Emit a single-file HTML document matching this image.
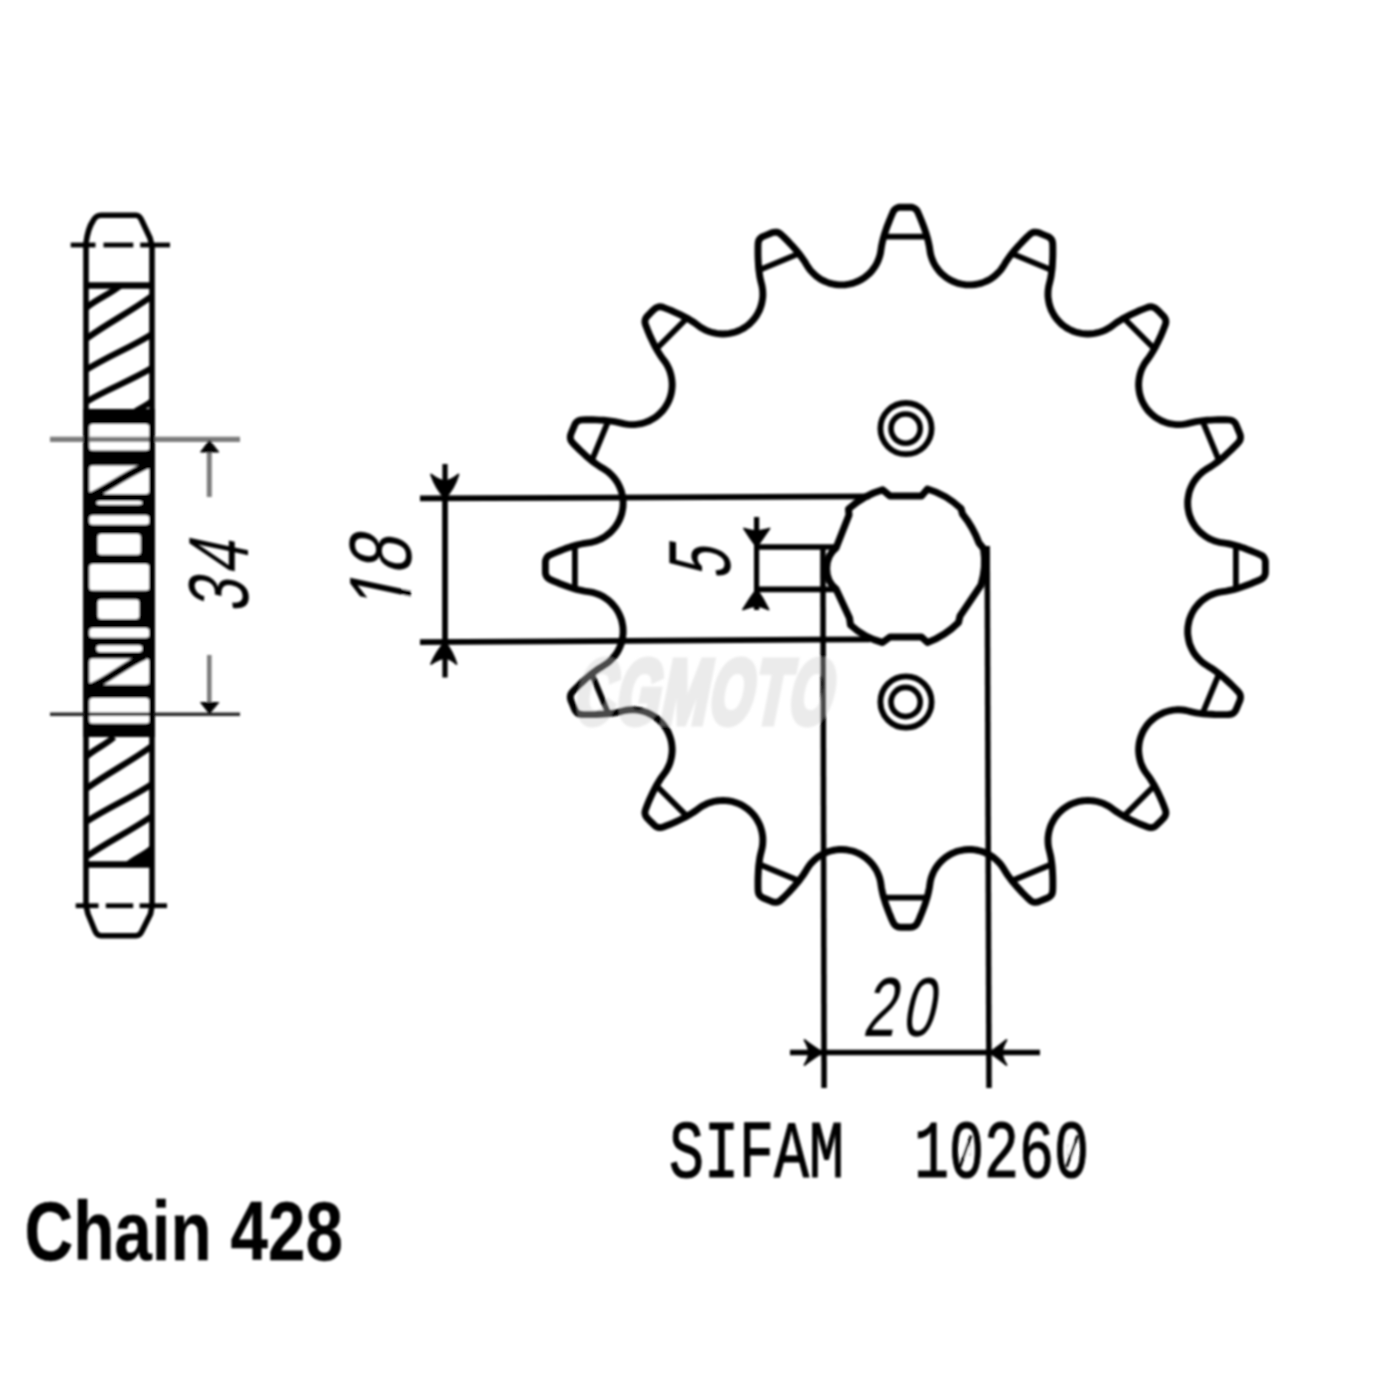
<!DOCTYPE html>
<html lang="en">
<head>
<meta charset="utf-8">
<title>SIFAM 10260 - Chain 428</title>
<style>
html,body{margin:0;padding:0;background:#fff;}
body{width:1400px;height:1400px;overflow:hidden;}
svg{display:block;}
</style>
</head>
<body>
<svg width="1400" height="1400" viewBox="0 0 1400 1400">
<defs><filter id="soft" filterUnits="userSpaceOnUse" x="0" y="0" width="1400" height="1400"><feGaussianBlur stdDeviation="1"/></filter></defs>
<rect width="1400" height="1400" fill="#fff"/>
<g id="drawing" filter="url(#soft)">
<g id="sideview">
<rect x="83.2" y="409" width="71.8" height="328" fill="#000"/>
<rect x="89.3" y="423.9" width="60.0" height="26.6" rx="3.5" fill="#fff"/>
<rect x="89.3" y="465.4" width="60.0" height="28.7" rx="3.5" fill="#fff"/>
<rect x="96.4" y="500.9" width="45.9" height="3.9" rx="3.5" fill="#fff"/>
<rect x="89.3" y="515.2" width="60.0" height="9.6" rx="3.5" fill="#fff"/>
<rect x="97.7" y="533.9" width="43.0" height="20.9" rx="3.5" fill="#fff"/>
<rect x="89.3" y="563.9" width="60.0" height="26.6" rx="3.5" fill="#fff"/>
<rect x="97.7" y="599.5" width="41.6" height="19.6" rx="3.5" fill="#fff"/>
<rect x="89.3" y="627.9" width="60.0" height="9.8" rx="3.5" fill="#fff"/>
<rect x="96.4" y="645.2" width="45.9" height="6.8" rx="3.5" fill="#fff"/>
<rect x="89.3" y="658.4" width="60.0" height="26.4" rx="3.5" fill="#fff"/>
<rect x="89.3" y="697.9" width="60.0" height="25.7" rx="3.5" fill="#fff"/>
<line x1="50.0" y1="439.3" x2="240.0" y2="439.3" stroke="#7c7c7c" stroke-width="5.2" stroke-linecap="butt"/>
<line x1="50.0" y1="714.3" x2="240.0" y2="714.3" stroke="#2a2a2a" stroke-width="3.6" stroke-linecap="butt"/>
<line x1="209.3" y1="450.0" x2="209.3" y2="497.0" stroke="#7c7c7c" stroke-width="5.0" stroke-linecap="butt"/>
<line x1="209.3" y1="655.0" x2="209.3" y2="705.0" stroke="#7c7c7c" stroke-width="4.6" stroke-linecap="butt"/>
<path d="M209.3 440.5 L200.5 452 L218.5 452 Z" fill="#000" stroke="#000" stroke-width="1.0" stroke-linejoin="round" stroke-linecap="round"/>
<path d="M209.3 713.5 L200.5 702.5 L218.5 702.5 Z" fill="#000" stroke="#000" stroke-width="1.0" stroke-linejoin="round" stroke-linecap="round"/>
<path d="M86.0 905.7 L86.0 243 Q88 228 93 221 Q96 215.3 101 215.3 L136 215.3 Q139.5 215.3 142 221 L150 238 L152.0 246 L152.0 905.7 L150.5 914 L142 931 Q140 935.7 136 935.7 L101 935.7 Q97 935.7 95 931 L88 914 Z" fill="none" stroke="#000" stroke-width="5.6" stroke-linejoin="round" stroke-linecap="round"/>
<line x1="70.7" y1="245.0" x2="95.5" y2="245.0" stroke="#000" stroke-width="4.8" stroke-linecap="butt"/>
<line x1="103.5" y1="245.0" x2="133.3" y2="245.0" stroke="#000" stroke-width="4.8" stroke-linecap="butt"/>
<line x1="140.2" y1="245.0" x2="170.0" y2="245.0" stroke="#000" stroke-width="4.8" stroke-linecap="butt"/>
<line x1="75.7" y1="905.7" x2="98.5" y2="905.7" stroke="#000" stroke-width="4.8" stroke-linecap="butt"/>
<line x1="105.8" y1="905.7" x2="133.2" y2="905.7" stroke="#000" stroke-width="4.8" stroke-linecap="butt"/>
<line x1="139.6" y1="905.7" x2="167.0" y2="905.7" stroke="#000" stroke-width="4.8" stroke-linecap="butt"/>
<line x1="86.0" y1="285.5" x2="152.0" y2="285.5" stroke="#000" stroke-width="6.4" stroke-linecap="butt"/>
<line x1="86.0" y1="864.5" x2="152.0" y2="864.5" stroke="#000" stroke-width="6.4" stroke-linecap="butt"/>
<clipPath id="hc"><rect x="86.0" y="285" width="66.0" height="126"/><rect x="86.0" y="735" width="66.0" height="130"/></clipPath>
<path d="M86.0 308.0 C97.7 298.3 109.3 294.7 121.0 285.0 M86.0 339.0 C108.0 322.7 130.0 312.3 152.0 296.0 M86.0 370.0 C108.0 356.0 130.0 348.0 152.0 334.0 M86.0 402.0 C108.0 388.7 130.0 381.3 152.0 368.0 M134.0 413.0 C140.0 407.0 146.0 407.0 152.0 401.0 M86.0 757.0 C95.3 748.3 104.7 745.7 114.0 737.0 M86.0 789.0 C108.0 772.7 130.0 762.3 152.0 746.0 M86.0 822.0 C108.0 807.3 130.0 798.7 152.0 784.0 M86.0 857.0 C108.0 841.3 130.0 831.7 152.0 816.0 M126.0 866.0 C134.7 858.0 143.3 856.0 152.0 848.0 " fill="none" stroke="#000" stroke-width="6.2" clip-path="url(#hc)"/>
<path d="M152 849 L152 865 L130 865 Z" fill="#000"/>
<path d="M91 496 C108 488 130 472 150 464 M91 687 C108 680 126 664 145 656" fill="none" stroke="#000" stroke-width="7.6"/>
</g>
<g id="sprocket">
<path d="M849.1 284.1 L852.4 283.4 L855.5 282.3 L858.6 281.0 L861.6 279.4 L864.4 277.6 L867.0 275.5 L869.5 273.3 L871.8 270.8 L873.8 268.2 L875.7 265.4 L877.3 262.4 L878.6 259.3 L879.7 256.2 L880.5 252.9 L881.0 249.6 L881.5 246.3 L882.2 242.9 L883.0 239.4 L884.0 235.9 L885.1 232.3 L886.3 228.8 L887.6 225.3 L888.9 221.9 L890.3 218.5 L891.6 215.3 L893.0 212.2 L893.8 210.7 L894.8 209.4 L896.0 208.5 L897.4 207.8 L899.0 207.3 L900.7 207.2 L905.4 207.2 L910.1 207.2 L911.8 207.3 L913.4 207.8 L914.8 208.5 L916.0 209.4 L917.0 210.7 L917.8 212.2 L919.2 215.3 L920.5 218.5 L921.9 221.9 L923.2 225.3 L924.5 228.8 L925.7 232.3 L926.8 235.9 L927.8 239.4 L928.6 242.9 L929.3 246.3 L929.8 249.6 L930.3 252.9 L931.1 256.2 L932.2 259.3 L933.5 262.4 L935.1 265.4 L937.0 268.2 L939.0 270.8 L941.3 273.3 L943.8 275.5 L946.4 277.6 L949.2 279.4 L952.2 281.0 L955.3 282.3 L958.4 283.4 L961.7 284.1 L965.0 284.7 L968.4 284.9 L971.7 284.9 L975.0 284.5 L978.3 283.9 L981.6 283.1 L984.7 281.9 L987.8 280.5 L990.7 278.9 L993.4 277.0 L996.0 274.8 L998.4 272.5 L1000.7 270.0 L1002.6 267.3 L1004.4 264.5 L1006.1 261.6 L1008.1 258.7 L1010.2 255.8 L1012.4 252.9 L1014.8 250.1 L1017.3 247.2 L1019.8 244.5 L1022.3 241.8 L1024.8 239.3 L1027.3 236.8 L1029.8 234.5 L1031.1 233.4 L1032.5 232.6 L1034.0 232.2 L1035.6 232.1 L1037.2 232.3 L1038.8 232.8 L1043.2 234.6 L1047.5 236.4 L1049.1 237.2 L1050.3 238.2 L1051.4 239.4 L1052.1 240.7 L1052.5 242.3 L1052.7 244.0 L1052.8 247.4 L1052.8 250.9 L1052.8 254.5 L1052.7 258.1 L1052.5 261.9 L1052.3 265.6 L1052.0 269.3 L1051.5 272.9 L1051.0 276.5 L1050.3 279.9 L1049.5 283.1 L1048.7 286.4 L1048.2 289.7 L1048.0 293.0 L1048.0 296.4 L1048.4 299.7 L1049.0 303.0 L1049.9 306.2 L1051.0 309.4 L1052.5 312.4 L1054.1 315.3 L1056.0 318.1 L1058.2 320.7 L1060.5 323.1 L1063.0 325.3 L1065.7 327.2 L1068.6 329.0 L1071.6 330.5 L1074.7 331.7 L1077.9 332.7 L1081.2 333.4 L1084.5 333.8 L1087.9 334.0 L1091.2 333.8 L1094.5 333.4 L1097.8 332.7 L1101.0 331.8 L1104.1 330.6 L1107.1 329.1 L1110.0 327.4 L1112.7 325.4 L1115.4 323.4 L1118.3 321.5 L1121.4 319.6 L1124.5 317.8 L1127.8 316.1 L1131.2 314.4 L1134.6 312.8 L1137.9 311.3 L1141.2 309.9 L1144.5 308.6 L1147.6 307.4 L1149.3 306.9 L1150.9 306.7 L1152.4 306.9 L1153.9 307.4 L1155.3 308.2 L1156.6 309.3 L1160.0 312.6 L1163.3 316.0 L1164.4 317.3 L1165.2 318.7 L1165.7 320.2 L1165.9 321.7 L1165.7 323.3 L1165.2 325.0 L1164.0 328.1 L1162.7 331.4 L1161.3 334.7 L1159.8 338.0 L1158.2 341.4 L1156.5 344.8 L1154.8 348.1 L1153.0 351.2 L1151.1 354.3 L1149.2 357.2 L1147.2 359.9 L1145.2 362.6 L1143.5 365.5 L1142.0 368.5 L1140.8 371.6 L1139.9 374.8 L1139.2 378.1 L1138.8 381.4 L1138.6 384.7 L1138.8 388.1 L1139.2 391.4 L1139.9 394.7 L1140.9 397.9 L1142.1 401.0 L1143.6 404.0 L1145.4 406.9 L1147.3 409.6 L1149.5 412.1 L1151.9 414.4 L1154.5 416.6 L1157.3 418.5 L1160.2 420.1 L1163.2 421.6 L1166.4 422.7 L1169.6 423.6 L1172.9 424.2 L1176.2 424.6 L1179.6 424.6 L1182.9 424.4 L1186.2 423.9 L1189.5 423.1 L1192.7 422.3 L1196.1 421.6 L1199.7 421.1 L1203.3 420.6 L1207.0 420.3 L1210.7 420.1 L1214.5 419.9 L1218.1 419.8 L1221.7 419.8 L1225.2 419.8 L1228.6 419.9 L1230.3 420.1 L1231.9 420.5 L1233.2 421.2 L1234.4 422.3 L1235.4 423.5 L1236.2 425.1 L1238.0 429.4 L1239.8 433.8 L1240.3 435.4 L1240.5 437.0 L1240.4 438.6 L1240.0 440.1 L1239.2 441.5 L1238.1 442.8 L1235.8 445.3 L1233.3 447.8 L1230.8 450.3 L1228.1 452.8 L1225.4 455.3 L1222.5 457.8 L1219.7 460.2 L1216.8 462.4 L1213.9 464.5 L1211.0 466.5 L1208.1 468.2 L1205.3 470.0 L1202.6 471.9 L1200.1 474.2 L1197.8 476.6 L1195.6 479.2 L1193.7 481.9 L1192.1 484.8 L1190.7 487.9 L1189.5 491.0 L1188.7 494.3 L1188.1 497.6 L1187.7 500.9 L1187.7 504.2 L1187.9 507.6 L1188.5 510.9 L1189.2 514.2 L1190.3 517.3 L1191.6 520.4 L1193.2 523.4 L1195.0 526.2 L1197.1 528.8 L1199.3 531.3 L1201.8 533.6 L1204.4 535.6 L1207.2 537.5 L1210.2 539.1 L1213.3 540.4 L1216.4 541.5 L1219.7 542.3 L1223.0 542.8 L1226.3 543.3 L1229.7 544.0 L1233.2 544.8 L1236.7 545.8 L1240.3 546.9 L1243.8 548.1 L1247.3 549.4 L1250.7 550.7 L1254.1 552.1 L1257.3 553.4 L1260.4 554.8 L1261.9 555.6 L1263.2 556.6 L1264.1 557.8 L1264.8 559.2 L1265.3 560.8 L1265.4 562.5 L1265.4 567.2 L1265.4 571.9 L1265.3 573.6 L1264.8 575.2 L1264.1 576.6 L1263.2 577.8 L1261.9 578.8 L1260.4 579.6 L1257.3 581.0 L1254.1 582.3 L1250.7 583.7 L1247.3 585.0 L1243.8 586.3 L1240.3 587.5 L1236.7 588.6 L1233.2 589.6 L1229.7 590.4 L1226.3 591.1 L1223.0 591.6 L1219.7 592.1 L1216.4 592.9 L1213.3 594.0 L1210.2 595.3 L1207.2 596.9 L1204.4 598.8 L1201.8 600.8 L1199.3 603.1 L1197.1 605.6 L1195.0 608.2 L1193.2 611.0 L1191.6 614.0 L1190.3 617.1 L1189.2 620.2 L1188.5 623.5 L1187.9 626.8 L1187.7 630.2 L1187.7 633.5 L1188.1 636.8 L1188.7 640.1 L1189.5 643.4 L1190.7 646.5 L1192.1 649.6 L1193.7 652.5 L1195.6 655.2 L1197.8 657.8 L1200.1 660.2 L1202.6 662.5 L1205.3 664.4 L1208.1 666.2 L1211.0 667.9 L1213.9 669.9 L1216.8 672.0 L1219.7 674.2 L1222.5 676.6 L1225.4 679.1 L1228.1 681.6 L1230.8 684.1 L1233.3 686.6 L1235.8 689.1 L1238.1 691.6 L1239.2 692.9 L1240.0 694.3 L1240.4 695.8 L1240.5 697.4 L1240.3 699.0 L1239.8 700.6 L1238.0 705.0 L1236.2 709.3 L1235.4 710.9 L1234.4 712.1 L1233.2 713.2 L1231.9 713.9 L1230.3 714.3 L1228.6 714.5 L1225.2 714.6 L1221.7 714.6 L1218.1 714.6 L1214.5 714.5 L1210.7 714.3 L1207.0 714.1 L1203.3 713.8 L1199.7 713.3 L1196.1 712.8 L1192.7 712.1 L1189.5 711.3 L1186.2 710.5 L1182.9 710.0 L1179.6 709.8 L1176.2 709.8 L1172.9 710.2 L1169.6 710.8 L1166.4 711.7 L1163.2 712.8 L1160.2 714.3 L1157.3 715.9 L1154.5 717.8 L1151.9 720.0 L1149.5 722.3 L1147.3 724.8 L1145.4 727.5 L1143.6 730.4 L1142.1 733.4 L1140.9 736.5 L1139.9 739.7 L1139.2 743.0 L1138.8 746.3 L1138.6 749.7 L1138.8 753.0 L1139.2 756.3 L1139.9 759.6 L1140.8 762.8 L1142.0 765.9 L1143.5 768.9 L1145.2 771.8 L1147.2 774.5 L1149.2 777.2 L1151.1 780.1 L1153.0 783.2 L1154.8 786.3 L1156.5 789.6 L1158.2 793.0 L1159.8 796.4 L1161.3 799.7 L1162.7 803.0 L1164.0 806.3 L1165.2 809.4 L1165.7 811.1 L1165.9 812.7 L1165.7 814.2 L1165.2 815.7 L1164.4 817.1 L1163.3 818.4 L1160.0 821.8 L1156.6 825.1 L1155.3 826.2 L1153.9 827.0 L1152.4 827.5 L1150.9 827.7 L1149.3 827.5 L1147.6 827.0 L1144.5 825.8 L1141.2 824.5 L1137.9 823.1 L1134.6 821.6 L1131.2 820.0 L1127.8 818.3 L1124.5 816.6 L1121.4 814.8 L1118.3 812.9 L1115.4 811.0 L1112.7 809.0 L1110.0 807.0 L1107.1 805.3 L1104.1 803.8 L1101.0 802.6 L1097.8 801.7 L1094.5 801.0 L1091.2 800.6 L1087.9 800.4 L1084.5 800.6 L1081.2 801.0 L1077.9 801.7 L1074.7 802.7 L1071.6 803.9 L1068.6 805.4 L1065.7 807.2 L1063.0 809.1 L1060.5 811.3 L1058.2 813.7 L1056.0 816.3 L1054.1 819.1 L1052.5 822.0 L1051.0 825.0 L1049.9 828.2 L1049.0 831.4 L1048.4 834.7 L1048.0 838.0 L1048.0 841.4 L1048.2 844.7 L1048.7 848.0 L1049.5 851.3 L1050.3 854.5 L1051.0 857.9 L1051.5 861.5 L1052.0 865.1 L1052.3 868.8 L1052.5 872.5 L1052.7 876.3 L1052.8 879.9 L1052.8 883.5 L1052.8 887.0 L1052.7 890.4 L1052.5 892.1 L1052.1 893.7 L1051.4 895.0 L1050.3 896.2 L1049.1 897.2 L1047.5 898.0 L1043.2 899.8 L1038.8 901.6 L1037.2 902.1 L1035.6 902.3 L1034.0 902.2 L1032.5 901.8 L1031.1 901.0 L1029.8 899.9 L1027.3 897.6 L1024.8 895.1 L1022.3 892.6 L1019.8 889.9 L1017.3 887.2 L1014.8 884.3 L1012.4 881.5 L1010.2 878.6 L1008.1 875.7 L1006.1 872.8 L1004.4 869.9 L1002.6 867.1 L1000.7 864.4 L998.4 861.9 L996.0 859.6 L993.4 857.4 L990.7 855.5 L987.8 853.9 L984.7 852.5 L981.6 851.3 L978.3 850.5 L975.0 849.9 L971.7 849.5 L968.4 849.5 L965.0 849.7 L961.7 850.3 L958.4 851.0 L955.3 852.1 L952.2 853.4 L949.2 855.0 L946.4 856.8 L943.8 858.9 L941.3 861.1 L939.0 863.6 L937.0 866.2 L935.1 869.0 L933.5 872.0 L932.2 875.1 L931.1 878.2 L930.3 881.5 L929.8 884.8 L929.3 888.1 L928.6 891.5 L927.8 895.0 L926.8 898.5 L925.7 902.1 L924.5 905.6 L923.2 909.1 L921.9 912.5 L920.5 915.9 L919.2 919.1 L917.8 922.2 L917.0 923.7 L916.0 925.0 L914.8 925.9 L913.4 926.6 L911.8 927.1 L910.1 927.2 L905.4 927.2 L900.7 927.2 L899.0 927.1 L897.4 926.6 L896.0 925.9 L894.8 925.0 L893.8 923.7 L893.0 922.2 L891.6 919.1 L890.3 915.9 L888.9 912.5 L887.6 909.1 L886.3 905.6 L885.1 902.1 L884.0 898.5 L883.0 895.0 L882.2 891.5 L881.5 888.1 L881.0 884.8 L880.5 881.5 L879.7 878.2 L878.6 875.1 L877.3 872.0 L875.7 869.0 L873.8 866.2 L871.8 863.6 L869.5 861.1 L867.0 858.9 L864.4 856.8 L861.6 855.0 L858.6 853.4 L855.5 852.1 L852.4 851.0 L849.1 850.3 L845.8 849.7 L842.4 849.5 L839.1 849.5 L835.8 849.9 L832.5 850.5 L829.2 851.3 L826.1 852.5 L823.0 853.9 L820.1 855.5 L817.4 857.4 L814.8 859.6 L812.4 861.9 L810.1 864.4 L808.2 867.1 L806.4 869.9 L804.7 872.8 L802.7 875.7 L800.6 878.6 L798.4 881.5 L796.0 884.3 L793.5 887.2 L791.0 889.9 L788.5 892.6 L786.0 895.1 L783.5 897.6 L781.0 899.9 L779.7 901.0 L778.3 901.8 L776.8 902.2 L775.2 902.3 L773.6 902.1 L772.0 901.6 L767.6 899.8 L763.3 898.0 L761.7 897.2 L760.5 896.2 L759.4 895.0 L758.7 893.7 L758.3 892.1 L758.1 890.4 L758.0 887.0 L758.0 883.5 L758.0 879.9 L758.1 876.3 L758.3 872.5 L758.5 868.8 L758.8 865.1 L759.3 861.5 L759.8 857.9 L760.5 854.5 L761.3 851.3 L762.1 848.0 L762.6 844.7 L762.8 841.4 L762.8 838.0 L762.4 834.7 L761.8 831.4 L760.9 828.2 L759.8 825.0 L758.3 822.0 L756.7 819.1 L754.8 816.3 L752.6 813.7 L750.3 811.3 L747.8 809.1 L745.1 807.2 L742.2 805.4 L739.2 803.9 L736.1 802.7 L732.9 801.7 L729.6 801.0 L726.3 800.6 L722.9 800.4 L719.6 800.6 L716.3 801.0 L713.0 801.7 L709.8 802.6 L706.7 803.8 L703.7 805.3 L700.8 807.0 L698.1 809.0 L695.4 811.0 L692.5 812.9 L689.4 814.8 L686.3 816.6 L683.0 818.3 L679.6 820.0 L676.2 821.6 L672.9 823.1 L669.6 824.5 L666.3 825.8 L663.2 827.0 L661.5 827.5 L659.9 827.7 L658.4 827.5 L656.9 827.0 L655.5 826.2 L654.2 825.1 L650.8 821.8 L647.5 818.4 L646.4 817.1 L645.6 815.7 L645.1 814.2 L644.9 812.7 L645.1 811.1 L645.6 809.4 L646.8 806.3 L648.1 803.0 L649.5 799.7 L651.0 796.4 L652.6 793.0 L654.3 789.6 L656.0 786.3 L657.8 783.2 L659.7 780.1 L661.6 777.2 L663.6 774.5 L665.6 771.8 L667.3 768.9 L668.8 765.9 L670.0 762.8 L670.9 759.6 L671.6 756.3 L672.0 753.0 L672.2 749.7 L672.0 746.3 L671.6 743.0 L670.9 739.7 L669.9 736.5 L668.7 733.4 L667.2 730.4 L665.4 727.5 L663.5 724.8 L661.3 722.3 L658.9 720.0 L656.3 717.8 L653.5 715.9 L650.6 714.3 L647.6 712.8 L644.4 711.7 L641.2 710.8 L637.9 710.2 L634.6 709.8 L631.2 709.8 L627.9 710.0 L624.6 710.5 L621.3 711.3 L618.1 712.1 L614.7 712.8 L611.1 713.3 L607.5 713.8 L603.8 714.1 L600.1 714.3 L596.3 714.5 L592.7 714.6 L589.1 714.6 L585.6 714.6 L582.2 714.5 L580.5 714.3 L578.9 713.9 L577.6 713.2 L576.4 712.1 L575.4 710.9 L574.6 709.3 L572.8 705.0 L571.0 700.6 L570.5 699.0 L570.3 697.4 L570.4 695.8 L570.8 694.3 L571.6 692.9 L572.7 691.6 L575.0 689.1 L577.5 686.6 L580.0 684.1 L582.7 681.6 L585.4 679.1 L588.3 676.6 L591.1 674.2 L594.0 672.0 L596.9 669.9 L599.8 667.9 L602.7 666.2 L605.5 664.4 L608.2 662.5 L610.7 660.2 L613.0 657.8 L615.2 655.2 L617.1 652.5 L618.7 649.6 L620.1 646.5 L621.3 643.4 L622.1 640.1 L622.7 636.8 L623.1 633.5 L623.1 630.2 L622.9 626.8 L622.3 623.5 L621.6 620.2 L620.5 617.1 L619.2 614.0 L617.6 611.0 L615.8 608.2 L613.7 605.6 L611.5 603.1 L609.0 600.8 L606.4 598.8 L603.6 596.9 L600.6 595.3 L597.5 594.0 L594.4 592.9 L591.1 592.1 L587.8 591.6 L584.5 591.1 L581.1 590.4 L577.6 589.6 L574.1 588.6 L570.5 587.5 L567.0 586.3 L563.5 585.0 L560.1 583.7 L556.7 582.3 L553.5 581.0 L550.4 579.6 L548.9 578.8 L547.6 577.8 L546.7 576.6 L546.0 575.2 L545.5 573.6 L545.4 571.9 L545.4 567.2 L545.4 562.5 L545.5 560.8 L546.0 559.2 L546.7 557.8 L547.6 556.6 L548.9 555.6 L550.4 554.8 L553.5 553.4 L556.7 552.1 L560.1 550.7 L563.5 549.4 L567.0 548.1 L570.5 546.9 L574.1 545.8 L577.6 544.8 L581.1 544.0 L584.5 543.3 L587.8 542.8 L591.1 542.3 L594.4 541.5 L597.5 540.4 L600.6 539.1 L603.6 537.5 L606.4 535.6 L609.0 533.6 L611.5 531.3 L613.7 528.8 L615.8 526.2 L617.6 523.4 L619.2 520.4 L620.5 517.3 L621.6 514.2 L622.3 510.9 L622.9 507.6 L623.1 504.2 L623.1 500.9 L622.7 497.6 L622.1 494.3 L621.3 491.0 L620.1 487.9 L618.7 484.8 L617.1 481.9 L615.2 479.2 L613.0 476.6 L610.7 474.2 L608.2 471.9 L605.5 470.0 L602.7 468.2 L599.8 466.5 L596.9 464.5 L594.0 462.4 L591.1 460.2 L588.3 457.8 L585.4 455.3 L582.7 452.8 L580.0 450.3 L577.5 447.8 L575.0 445.3 L572.7 442.8 L571.6 441.5 L570.8 440.1 L570.4 438.6 L570.3 437.0 L570.5 435.4 L571.0 433.8 L572.8 429.4 L574.6 425.1 L575.4 423.5 L576.4 422.3 L577.6 421.2 L578.9 420.5 L580.5 420.1 L582.2 419.9 L585.6 419.8 L589.1 419.8 L592.7 419.8 L596.3 419.9 L600.1 420.1 L603.8 420.3 L607.5 420.6 L611.1 421.1 L614.7 421.6 L618.1 422.3 L621.3 423.1 L624.6 423.9 L627.9 424.4 L631.2 424.6 L634.6 424.6 L637.9 424.2 L641.2 423.6 L644.4 422.7 L647.6 421.6 L650.6 420.1 L653.5 418.5 L656.3 416.6 L658.9 414.4 L661.3 412.1 L663.5 409.6 L665.4 406.9 L667.2 404.0 L668.7 401.0 L669.9 397.9 L670.9 394.7 L671.6 391.4 L672.0 388.1 L672.2 384.7 L672.0 381.4 L671.6 378.1 L670.9 374.8 L670.0 371.6 L668.8 368.5 L667.3 365.5 L665.6 362.6 L663.6 359.9 L661.6 357.2 L659.7 354.3 L657.8 351.2 L656.0 348.1 L654.3 344.8 L652.6 341.4 L651.0 338.0 L649.5 334.7 L648.1 331.4 L646.8 328.1 L645.6 325.0 L645.1 323.3 L644.9 321.7 L645.1 320.2 L645.6 318.7 L646.4 317.3 L647.5 316.0 L650.8 312.6 L654.2 309.3 L655.5 308.2 L656.9 307.4 L658.4 306.9 L659.9 306.7 L661.5 306.9 L663.2 307.4 L666.3 308.6 L669.6 309.9 L672.9 311.3 L676.2 312.8 L679.6 314.4 L683.0 316.1 L686.3 317.8 L689.4 319.6 L692.5 321.5 L695.4 323.4 L698.1 325.4 L700.8 327.4 L703.7 329.1 L706.7 330.6 L709.8 331.8 L713.0 332.7 L716.3 333.4 L719.6 333.8 L722.9 334.0 L726.3 333.8 L729.6 333.4 L732.9 332.7 L736.1 331.7 L739.2 330.5 L742.2 329.0 L745.1 327.2 L747.8 325.3 L750.3 323.1 L752.6 320.7 L754.8 318.1 L756.7 315.3 L758.3 312.4 L759.8 309.4 L760.9 306.2 L761.8 303.0 L762.4 299.7 L762.8 296.4 L762.8 293.0 L762.6 289.7 L762.1 286.4 L761.3 283.1 L760.5 279.9 L759.8 276.5 L759.3 272.9 L758.8 269.3 L758.5 265.6 L758.3 261.9 L758.1 258.1 L758.0 254.5 L758.0 250.9 L758.0 247.4 L758.1 244.0 L758.3 242.3 L758.7 240.7 L759.4 239.4 L760.5 238.2 L761.7 237.2 L763.3 236.4 L767.6 234.6 L772.0 232.8 L773.6 232.3 L775.2 232.1 L776.8 232.2 L778.3 232.6 L779.7 233.4 L781.0 234.5 L783.5 236.8 L786.0 239.3 L788.5 241.8 L791.0 244.5 L793.5 247.2 L796.0 250.1 L798.4 252.9 L800.6 255.8 L802.7 258.7 L804.7 261.6 L806.4 264.5 L808.2 267.3 L810.1 270.0 L812.4 272.5 L814.8 274.8 L817.4 277.0 L820.1 278.9 L823.0 280.5 L826.1 281.9 L829.2 283.1 L832.5 283.9 L835.8 284.5 L839.1 284.9 L842.4 284.9 L845.8 284.7 Z" fill="none" stroke="#000" stroke-width="6.9" stroke-linejoin="round"/>
<path d="M883.9 236.7 L926.9 236.7 M1012.0 253.6 L1051.7 270.1 M1123.9 318.3 L1154.3 348.7 M1202.5 420.9 L1219.0 460.6 M1235.9 545.7 L1235.9 588.7 M1219.0 673.8 L1202.5 713.5 M1154.3 785.7 L1123.9 816.1 M1051.7 864.3 L1012.0 880.8 M926.9 897.7 L883.9 897.7 M798.8 880.8 L759.1 864.3 M686.9 816.1 L656.5 785.7 M608.3 713.5 L591.8 673.8 M574.9 588.7 L574.9 545.7 M591.8 460.6 L608.3 420.9 M656.5 348.7 L686.9 318.3 M759.1 270.1 L798.8 253.6 " fill="none" stroke="#000" stroke-width="5.8" stroke-linecap="round"/>
</g>
<g id="dims">
<path d="M882.5 489.8 L890 496 L921.5 496 L927.5 489 Q946 494.5 961 508.5 L962.5 514 Q973 527 979 543 L983.5 548.5 Q986.5 567 981 585 L960 616 L958.5 622.5 Q945 636 927.5 642.5 L921.5 637 L890 637 L882.5 642.5 Q864 637.5 850.5 625 L849.5 618 L836 589 C823.5 579 823.5 558 836 548 L849 515 L848.5 509 Q864 495 882.5 489.8 Z" fill="none" stroke="#000" stroke-width="7.0" stroke-linejoin="round" stroke-linecap="round"/>
<circle cx="906" cy="428.6" r="25.6" fill="none" stroke="#000" stroke-width="5.8"/>
<circle cx="905.6" cy="428.6" r="14.6" fill="none" stroke="#000" stroke-width="5.6"/>
<circle cx="906" cy="702.0" r="25.6" fill="none" stroke="#000" stroke-width="5.8"/>
<circle cx="905.6" cy="702.0" r="14.6" fill="none" stroke="#000" stroke-width="5.6"/>
<line x1="420.0" y1="498.4" x2="870.0" y2="496.4" stroke="#000" stroke-width="5.7" stroke-linecap="butt"/>
<line x1="420.0" y1="642.2" x2="870.0" y2="639.3" stroke="#000" stroke-width="5.7" stroke-linecap="butt"/>
<line x1="445.0" y1="498.0" x2="445.0" y2="642.0" stroke="#000" stroke-width="5.7" stroke-linecap="butt"/>
<line x1="445.0" y1="464.0" x2="445.0" y2="498.0" stroke="#000" stroke-width="5.2" stroke-linecap="butt"/>
<line x1="445.0" y1="642.0" x2="445.0" y2="677.5" stroke="#000" stroke-width="5.2" stroke-linecap="butt"/>
<path d="M445 498 Q436 489 431 474.5 Q440 481 445 481 Q450 481 458.5 474.5 Q454 489 445 498 Z" fill="#000" stroke="#000" stroke-width="1.8" stroke-linejoin="round" stroke-linecap="round"/>
<path d="M445 642 Q436 652 431 664 Q440 658 445 658 Q450 658 456.5 664 Q453 652 445 642 Z" fill="#000" stroke="#000" stroke-width="1.8" stroke-linejoin="round" stroke-linecap="round"/>
<line x1="756.6" y1="517.0" x2="756.6" y2="610.0" stroke="#000" stroke-width="5.2" stroke-linecap="butt"/>
<line x1="756.6" y1="547.0" x2="837.0" y2="547.0" stroke="#000" stroke-width="5.7" stroke-linecap="butt"/>
<line x1="756.6" y1="589.3" x2="837.0" y2="589.3" stroke="#000" stroke-width="5.7" stroke-linecap="butt"/>
<path d="M756.6 547 Q750 538 744 528.5 Q752 531 756.6 531 Q761 531 769.5 528.5 Q763 538 756.6 547 Z" fill="#000" stroke="#000" stroke-width="1.8" stroke-linejoin="round" stroke-linecap="round"/>
<path d="M756.6 589.3 Q750 598 743 609.5 Q752 606 756.6 606 Q761 606 768.5 609.5 Q763 598 756.6 589.3 Z" fill="#000" stroke="#000" stroke-width="1.8" stroke-linejoin="round" stroke-linecap="round"/>
<line x1="822.9" y1="546.0" x2="824.1" y2="1088.0" stroke="#000" stroke-width="5.5" stroke-linecap="butt"/>
<line x1="987.2" y1="546.0" x2="989.0" y2="1088.0" stroke="#000" stroke-width="5.5" stroke-linecap="butt"/>
<line x1="790.0" y1="1052.4" x2="1040.0" y2="1052.4" stroke="#000" stroke-width="5.5" stroke-linecap="butt"/>
<path d="M822.5 1052.4 Q812 1046 804.5 1040 Q809 1048 809 1052.4 Q809 1057 804.5 1065 Q812 1059 822.5 1052.4 Z" fill="#000" stroke="#000" stroke-width="1.8" stroke-linejoin="round" stroke-linecap="round"/>
<path d="M990 1052.4 Q999 1046 1006.5 1040 Q1002 1048 1002 1052.4 Q1002 1057 1006.5 1065 Q999 1059 990 1052.4 Z" fill="#000" stroke="#000" stroke-width="1.8" stroke-linejoin="round" stroke-linecap="round"/>
</g>
<g id="labels">
<g transform="translate(410.5 613.4) rotate(-90) skewX(-12) scale(0.760 1)"><text font-family="Liberation Sans, sans-serif" font-size="88.5" letter-spacing="0.8" fill="#000" stroke="none" stroke-width="0.0">18</text><rect x="4.3" y="-7.6" width="17.9" height="10.1" fill="#fff"/><rect x="30.1" y="-7.6" width="17.3" height="10.1" fill="#fff"/></g>
<g transform="translate(248.0 613.5) rotate(-90) skewX(-12) scale(0.687 1)"><text font-family="Liberation Sans, sans-serif" font-size="85.2" letter-spacing="8.0" fill="#000" stroke="none" stroke-width="0.0">34</text></g>
<g transform="translate(729.6 580.5) rotate(-90) skewX(-12) scale(0.640 1)"><text font-family="Liberation Sans, sans-serif" font-size="88.1" letter-spacing="0.0" fill="#000" stroke="none" stroke-width="0.0">5</text></g>
<g transform="translate(862.0 1035.5) rotate(0) skewX(-12) scale(0.695 1)"><text font-family="Liberation Sans, sans-serif" font-size="83.7" letter-spacing="9.0" fill="#000" stroke="none" stroke-width="0.0">20</text></g>
<text transform="translate(669.0 1176.5) scale(0.716 1)" font-family="Liberation Mono, monospace" font-size="81.5" fill="#000" stroke="#000" stroke-width="1.2" xml:space="preserve">SIFAM  10260</text>
<ellipse cx="965.6" cy="1149.8" rx="5" ry="8" fill="#fff"/><ellipse cx="1072.2" cy="1149.8" rx="5" ry="8" fill="#fff"/>
<path d="M960 1167 L971 1135.5 M1066.6 1167 L1077.6 1135.5" fill="none" stroke="#000" stroke-width="2.8"/>
<text transform="translate(24.5 1259.5) scale(0.812 1)" font-family="Liberation Sans, sans-serif" font-weight="bold" font-size="83.0" fill="#000" stroke="#000" stroke-width="0.3">Chain 428</text>
</g>
<g id="watermark">
<g opacity="0.36"><text transform="translate(572.0 722.5) skewX(-11) scale(0.615 1)" font-family="Liberation Sans, sans-serif" font-weight="bold" font-size="90.0" letter-spacing="3" fill="#c8c8c8" stroke="#c8c8c8" stroke-width="6.0" stroke-linejoin="miter" vector-effect="non-scaling-stroke">CGMOTO</text></g>
</g>
</g>
</svg>
</body>
</html>
